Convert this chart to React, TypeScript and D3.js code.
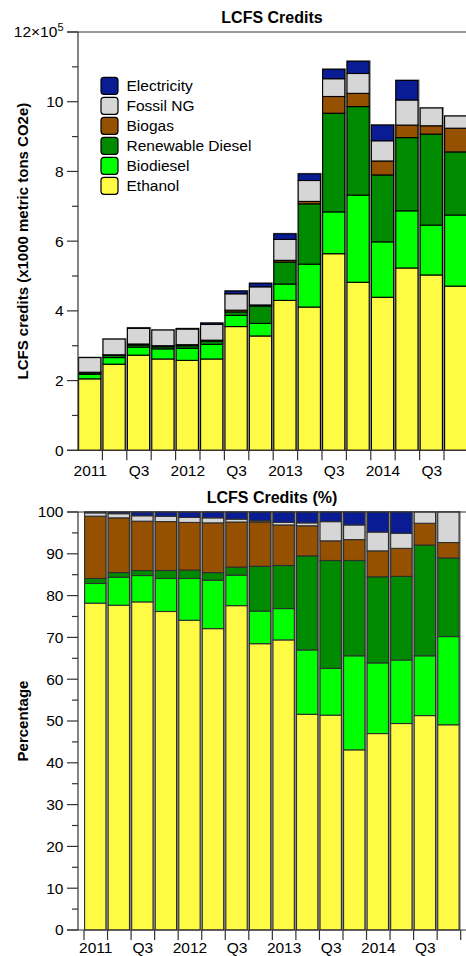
import React from 'react';
import * as d3 from 'd3';

// Quarters 2011 Q1 – 2014 Q4
const quarters = [
  '2011Q1', '2011Q2', '2011Q3', '2011Q4',
  '2012Q1', '2012Q2', '2012Q3', '2012Q4',
  '2013Q1', '2013Q2', '2013Q3', '2013Q4',
  '2014Q1', '2014Q2', '2014Q3', '2014Q4',
];
const quarterLabels = ['2011', '', 'Q3', '', '2012', '', 'Q3', '', '2013', '', 'Q3', '', '2014', '', 'Q3', ''];

// Stack order, bottom to top
const seriesNames = ['Ethanol', 'Biodiesel', 'Renewable Diesel', 'Biogas', 'Fossil NG', 'Electricity'];
const seriesColors = ['#FFFA44', '#00FF00', '#008A00', '#955000', '#D6D6D6', '#0A1C94'];

// Credits, in units of 10^5 (x1000 metric tons CO2e)
const ethanol = [2.05, 2.47, 2.73, 2.62, 2.58, 2.62, 3.55, 3.28, 4.30, 4.11, 5.64, 4.82, 4.39, 5.23, 5.03, 4.71];
const biodiesel = [0.13, 0.19, 0.23, 0.29, 0.35, 0.42, 0.32, 0.36, 0.47, 1.23, 1.20, 2.50, 1.59, 1.64, 1.43, 2.04];
const renewableDiesel = [0.04, 0.06, 0.06, 0.06, 0.07, 0.09, 0.10, 0.50, 0.63, 1.73, 2.83, 2.54, 1.92, 2.10, 2.61, 1.81];
const biogas = [0.02, 0.02, 0.03, 0.03, 0.03, 0.03, 0.05, 0.03, 0.05, 0.07, 0.48, 0.38, 0.40, 0.36, 0.24, 0.68];
const fossilNG = [0.42, 0.45, 0.45, 0.45, 0.45, 0.45, 0.47, 0.52, 0.60, 0.60, 0.51, 0.57, 0.58, 0.72, 0.51, 0.35];
const electricity = [0, 0, 0.01, 0, 0.01, 0.04, 0.08, 0.10, 0.16, 0.19, 0.27, 0.35, 0.45, 0.56, 0, 0];

// Share of credits, percent
const ethanolPct = [78.2, 77.7, 78.5, 76.2, 74.1, 72.1, 77.6, 68.5, 69.4, 51.6, 51.4, 43.1, 47.0, 49.4, 51.3, 49.1];
const biodieselPct = [4.7, 6.7, 6.3, 7.9, 10.0, 11.6, 7.3, 7.8, 7.5, 15.4, 11.2, 22.5, 16.9, 15.2, 14.3, 21.1];
const renewableDieselPct = [1.2, 1.1, 1.2, 1.9, 2.0, 1.8, 1.9, 10.7, 10.3, 22.5, 25.8, 22.8, 20.6, 20.0, 26.5, 18.8];
const biogasPct = [14.9, 13.1, 11.8, 11.7, 11.4, 11.9, 10.8, 10.6, 9.7, 7.2, 4.7, 5.0, 6.2, 6.7, 5.2, 3.7];
const fossilNGPct = [0.8, 1.0, 1.3, 1.3, 1.2, 1.2, 0.7, 0.3, 0.6, 0.7, 4.6, 3.5, 4.5, 3.6, 2.7, 7.3];
const electricityPct = [0.2, 0.4, 0.9, 1.0, 1.3, 1.4, 1.7, 2.1, 2.5, 2.6, 2.3, 3.1, 4.8, 5.1, 0, 0];

const creditSeries = [ethanol, biodiesel, renewableDiesel, biogas, fossilNG, electricity];
const pctSeries = [ethanolPct, biodieselPct, renewableDieselPct, biogasPct, fossilNGPct, electricityPct];

const yTicksTop = [0, 2, 4, 6, 8, 10, 12];
const yTicksBottom = [0, 10, 20, 30, 40, 50, 60, 70, 80, 90, 100];

const FONT = '"Liberation Sans", Arial, Helvetica, sans-serif';

type Row = { [k: string]: number | string };

function buildRows(series: number[][]): Row[] {
  return quarters.map((q, i) => {
    const r: Row = { q };
    seriesNames.forEach((s, j) => { r[s] = series[j][i]; });
    return r;
  });
}

interface PanelProps {
  title: string;
  titleY: number;
  top: number;
  bottom: number;
  xRange: [number, number];
  yMax: number;
  yTicks: number[];
  minorStep: number;
  rows: Row[];
  strokeColor: string;
  tickAtStart: boolean;
  yTitle: string;
  topLabel?: React.ReactNode;
  labelY: number;
}

const AXIS_X = 78;
const RIGHT = 470;

function Panel(p: PanelProps) {
  const x = d3.scaleBand<string>().domain(quarters).range(p.xRange).paddingInner(0).paddingOuter(0);
  const y = d3.scaleLinear().domain([0, p.yMax]).range([p.bottom, p.top]);
  const stacked = d3.stack<Row>().keys(seriesNames).value((d, k) => d[k] as number)(p.rows);
  const bw = x.bandwidth();
  const minorTicks = d3.range(0, p.yMax + 1e-9, p.minorStep).filter(v => !p.yTicks.includes(v));
  const totals = p.rows.map(r => seriesNames.reduce((a, s) => a + (r[s] as number), 0));
  const boundaries = d3.range(0, quarters.length + 1)
    .map(k => p.xRange[0] + k * bw)
    .filter((v, k) => (p.tickAtStart || k > 0) && v <= 466);

  return (
    <g>
      <text x={(AXIS_X + 466) / 2} y={p.titleY} textAnchor="middle" fontFamily={FONT}
        fontWeight="bold" fontSize={16}>{p.title}</text>

      {/* bar backing strips */}
      {quarters.map((q, i) => (
        <rect key={'bg' + q} x={x(q)!} width={bw} y={y(totals[i]) - 1}
          height={p.bottom - y(totals[i]) + 1} fill="#8a8a8a" />
      ))}
      {/* stacked segments */}
      {stacked.map((layer, j) => (
        <g key={layer.key}>
          {layer.map((d, i) => {
            const h = y(d[0]) - y(d[1]);
            if (h <= 0) return null;
            return (
              <rect key={i} x={x(quarters[i])! + 0.6} width={bw - 2.2}
                y={y(d[1])} height={h} fill={seriesColors[j]}
                stroke={p.strokeColor} strokeWidth={1.1} />
            );
          })}
        </g>
      ))}

      {/* frame line at top */}
      <line x1={AXIS_X - 11} x2={RIGHT} y1={p.top} y2={p.top} stroke="#333" strokeWidth={1.2} />
      {/* y axis */}
      <line x1={AXIS_X} x2={AXIS_X} y1={p.top} y2={p.bottom} stroke="#333" strokeWidth={1.2} />
      {p.yTicks.map(t => (
        <g key={'yt' + t}>
          <line x1={AXIS_X - 11} x2={AXIS_X} y1={y(t)} y2={y(t)} stroke="#333" strokeWidth={1.2} />
          {t === p.yMax && p.topLabel ? p.topLabel : (
            <text x={63.5} y={y(t) + 5.4} textAnchor="end" fontFamily={FONT} fontSize={15.5}>{t}</text>
          )}
        </g>
      ))}
      {minorTicks.map(t => (
        <line key={'ym' + t} x1={AXIS_X - 6} x2={AXIS_X} y1={y(t)} y2={y(t)} stroke="#333" strokeWidth={1.2} />
      ))}
      {/* x axis */}
      <line x1={AXIS_X - 11} x2={RIGHT} y1={p.bottom} y2={p.bottom} stroke="#333" strokeWidth={1.2} />
      {boundaries.map((b, k) => (
        <line key={'xt' + k} x1={b} x2={b} y1={p.bottom} y2={p.bottom + 10} stroke="#333" strokeWidth={1.2} />
      ))}
      {quarters.map((q, i) => quarterLabels[i] ? (
        <text key={'xl' + q} x={x(q)! + bw / 2} y={p.labelY} textAnchor="middle"
          fontFamily={FONT} fontSize={15.5}>{quarterLabels[i]}</text>
      ) : null)}

      <text transform={`translate(27.5,${(p.top + p.bottom) / 2}) rotate(-90)`} textAnchor="middle"
        fontFamily={FONT} fontWeight="bold" fontSize={15}>{p.yTitle}</text>
    </g>
  );
}

export default function App() {
  const creditRows = buildRows(creditSeries);
  const pctRows = buildRows(pctSeries);
  const legendOrder = [...seriesNames].reverse();

  const topLabel = (
    <text x={63.5} y={37} textAnchor="end" fontFamily={FONT} fontSize={15.5}>
      <tspan>12×10</tspan>
      <tspan dy={-6} fontSize={11}>5</tspan>
    </text>
  );

  return (
    <svg width={466} height={956} style={{ position: 'absolute', left: 0, top: 0, background: '#fff' }}>
      <rect width={466} height={956} fill="#fff" />
      <Panel title="LCFS Credits" titleY={23} top={32} bottom={450.3} xRange={[78, 468.4]}
        yMax={12} yTicks={yTicksTop} minorStep={1} rows={creditRows} strokeColor="#000"
        tickAtStart={false} yTitle="LCFS credits (x1000 metric tons CO2e)" topLabel={topLabel}
        labelY={476} />
      <Panel title="LCFS Credits (%)" titleY={503} top={512} bottom={930} xRange={[84, 460.7]}
        yMax={100} yTicks={yTicksBottom} minorStep={5} rows={pctRows} strokeColor="#2e2e2e"
        tickAtStart={true} yTitle="Percentage" labelY={953} />

      {/* legend */}
      {legendOrder.map((s, i) => (
        <g key={s}>
          <rect x={101} y={77.3 + i * 20} width={17} height={17} rx={3} ry={3}
            fill={seriesColors[seriesNames.indexOf(s)]} stroke="#000" strokeWidth={1.2} />
          <text x={126.5} y={91 + i * 20} fontFamily={FONT} fontSize={15.5}>{s}</text>
        </g>
      ))}
    </svg>
  );
}
